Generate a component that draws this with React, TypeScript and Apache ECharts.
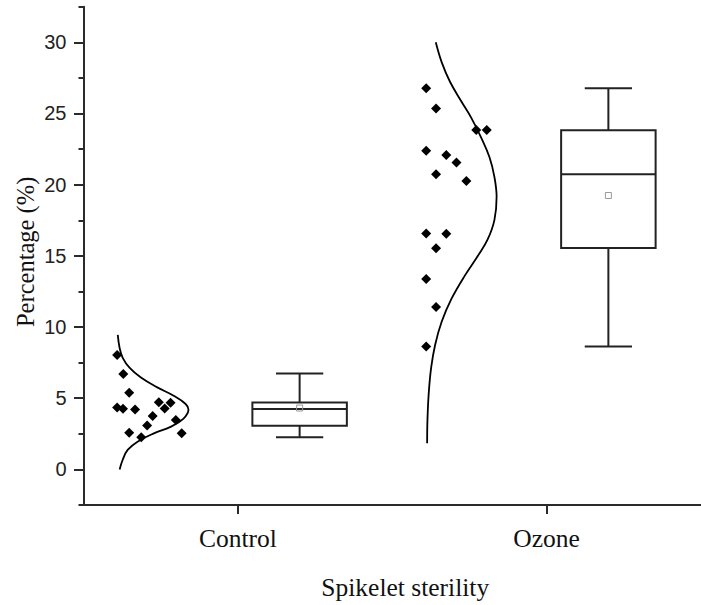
import React, { useEffect, useRef } from 'react';
import * as echarts from 'echarts';

const categories = ['Control', 'Ozone'];
const categoryPositions = [1, 2];
const yMajorTicks = [0, 5, 10, 15, 20, 25, 30];

// jittered scatter points (x in category units, y in %)
const controlPointsX = [0.609, 0.629, 0.648, 0.609, 0.628, 0.667, 0.744, 0.763, 0.782, 0.724, 0.706, 0.799, 0.648, 0.687, 0.818];
const controlPointsY = [8.04, 6.70, 5.38, 4.34, 4.26, 4.20, 4.71, 4.28, 4.68, 3.75, 3.08, 3.47, 2.57, 2.26, 2.54];

const ozonePointsX = [1.610, 1.642, 1.772, 1.806, 1.610, 1.675, 1.708, 1.642, 1.740, 1.610, 1.675, 1.642, 1.610, 1.642, 1.610];
const ozonePointsY = [26.77, 25.35, 23.84, 23.84, 22.38, 22.09, 21.56, 20.74, 20.25, 16.57, 16.55, 15.54, 13.38, 11.41, 8.64];

// distribution curves
const controlCurveX = [0.611, 0.617, 0.627, 0.649, 0.686, 0.739, 0.792, 0.830, 0.840, 0.824, 0.782, 0.728, 0.675, 0.643, 0.627, 0.617];
const controlCurveY = [9.45, 8.53, 7.84, 7.15, 6.45, 5.76, 5.18, 4.61, 4.20, 3.57, 2.99, 2.53, 1.95, 1.37, 0.68, 0.0];

const ozoneCurveX = [1.641, 1.660, 1.687, 1.724, 1.756, 1.788, 1.815, 1.831, 1.838, 1.831, 1.809, 1.777, 1.735, 1.692, 1.660, 1.639, 1.626, 1.618, 1.614, 1.613];
const ozoneCurveY = [30.0, 28.61, 27.23, 25.84, 24.69, 23.30, 21.92, 20.53, 19.15, 17.53, 16.15, 14.99, 13.61, 11.99, 10.37, 8.76, 7.15, 5.30, 3.45, 1.84];

// box statistics
const boxCenters = [1.2, 2.2];
const boxMin = [2.25, 8.63];
const boxQ1 = [3.06, 15.55];
const boxMedian = [4.24, 20.74];
const boxQ3 = [4.70, 23.82];
const boxMax = [6.73, 26.77];
const boxMean = [4.31, 19.24];

const BOX_WIDTH = 0.306;

export default function App() {
  const ref = useRef<HTMLDivElement>(null);
  useEffect(() => {
    if (!ref.current) return;
    const chart = echarts.init(ref.current, null, { renderer: 'svg' });
    const zip = (xs: number[], ys: number[]) => xs.map((x, i) => [x, ys[i]]);
    const boxData = boxCenters.map((c, i) => [c, boxMin[i], boxQ1[i], boxMedian[i], boxQ3[i], boxMax[i], boxMean[i]]);
    const axisColor = '#2a2a2a';
    chart.setOption({
      animation: false,
      backgroundColor: '#ffffff',
      grid: { left: 83.5, right: -8.5, top: 6.7, bottom: 92.2 },
      xAxis: {
        type: 'value',
        min: 0.5,
        max: 2.5,
        splitLine: { show: false },
        axisLine: { show: true, onZero: false, lineStyle: { color: axisColor, width: 2 } },
        axisTick: { show: true, customValues: categoryPositions, length: 9, lineStyle: { color: axisColor, width: 2 } },
        axisLabel: {
          customValues: categoryPositions,
          formatter: (v: number) => categories[Math.round(v) - 1] ?? '',
          fontFamily: 'Liberation Serif',
          fontSize: 25.5,
          color: '#111',
          margin: 20,
        },
        name: 'Spikelet sterility',
        nameLocation: 'middle',
        nameGap: 69,
        nameTextStyle: { fontFamily: 'Liberation Serif', fontSize: 25.5, color: '#111', padding: [0, 0, 0, 26] },
      },
      yAxis: [
        {
          type: 'value',
          min: -2.5,
          max: 32.5,
          interval: 2.5,
          position: 'left',
          splitLine: { show: false },
          axisLine: { show: true, onZero: false, lineStyle: { color: axisColor, width: 2 } },
          axisTick: { show: true, length: 5, lineStyle: { color: axisColor, width: 2 } },
          axisLabel: { show: false },
          name: 'Percentage (%)',
          nameLocation: 'middle',
          nameGap: 46,
          nameTextStyle: { fontFamily: 'Liberation Serif', fontSize: 24.5, color: '#111', padding: [0, 0, 0, 8] },
        },
        {
          type: 'value',
          min: -2.5,
          max: 32.5,
          position: 'left',
          splitLine: { show: false },
          axisLine: { show: false },
          axisTick: { show: true, customValues: yMajorTicks, length: 9.5, lineStyle: { color: axisColor, width: 2 } },
          axisLabel: {
            customValues: yMajorTicks,
            fontFamily: 'Liberation Sans',
            fontSize: 20,
            color: '#222',
            margin: 17,
          },
        },
      ],
      series: [
        {
          type: 'scatter',
          name: 'Control points',
          data: zip(controlPointsX, controlPointsY),
          symbol: 'diamond',
          symbolSize: 10,
          itemStyle: { color: '#000', opacity: 1 },
        },
        {
          type: 'scatter',
          name: 'Ozone points',
          data: zip(ozonePointsX, ozonePointsY),
          symbol: 'diamond',
          symbolSize: 10,
          itemStyle: { color: '#000', opacity: 1 },
        },
        {
          type: 'line',
          name: 'Control curve',
          data: zip(controlCurveX, controlCurveY),
          smooth: 0.4,
          showSymbol: false,
          lineStyle: { color: '#000', width: 1.8 },
        },
        {
          type: 'line',
          name: 'Ozone curve',
          data: zip(ozoneCurveX, ozoneCurveY),
          smooth: 0.4,
          showSymbol: false,
          lineStyle: { color: '#000', width: 1.8 },
        },
        {
          type: 'custom',
          name: 'Boxes',
          data: boxData,
          encode: { x: 0, y: [1, 2, 3, 4, 5, 6] },
          renderItem: (_params: any, api: any) => {
            const x = api.value(0);
            const cx = api.coord([x, api.value(3)])[0];
            const yMin = api.coord([x, api.value(1)])[1];
            const yQ1 = api.coord([x, api.value(2)])[1];
            const yMed = api.coord([x, api.value(3)])[1];
            const yQ3 = api.coord([x, api.value(4)])[1];
            const yMax = api.coord([x, api.value(5)])[1];
            const yMean = api.coord([x, api.value(6)])[1];
            const w = api.size([BOX_WIDTH, 0])[0];
            const h = w / 2;
            const cap = w / 4;
            const st = { stroke: '#222', lineWidth: 2, fill: 'none' };
            return {
              type: 'group',
              children: [
                { type: 'line', shape: { x1: cx, y1: yMax, x2: cx, y2: yQ3 }, style: st },
                { type: 'line', shape: { x1: cx, y1: yQ1, x2: cx, y2: yMin }, style: st },
                { type: 'line', shape: { x1: cx - cap, y1: yMax, x2: cx + cap, y2: yMax }, style: st },
                { type: 'line', shape: { x1: cx - cap, y1: yMin, x2: cx + cap, y2: yMin }, style: st },
                { type: 'rect', shape: { x: cx - h, y: yQ3, width: w, height: yQ1 - yQ3 }, style: st },
                { type: 'line', shape: { x1: cx - h, y1: yMed, x2: cx + h, y2: yMed }, style: st },
                { type: 'rect', shape: { x: cx - 3, y: yMean - 3, width: 6, height: 6 }, style: { stroke: '#999', lineWidth: 1, fill: 'none' } },
              ],
            };
          },
        },
      ],
    });
    return () => chart.dispose();
  }, []);
  return <div ref={ref} style={{ position: 'fixed', left: 0, top: 0, width: 701, height: 605, background: '#fff' }} />;
}
